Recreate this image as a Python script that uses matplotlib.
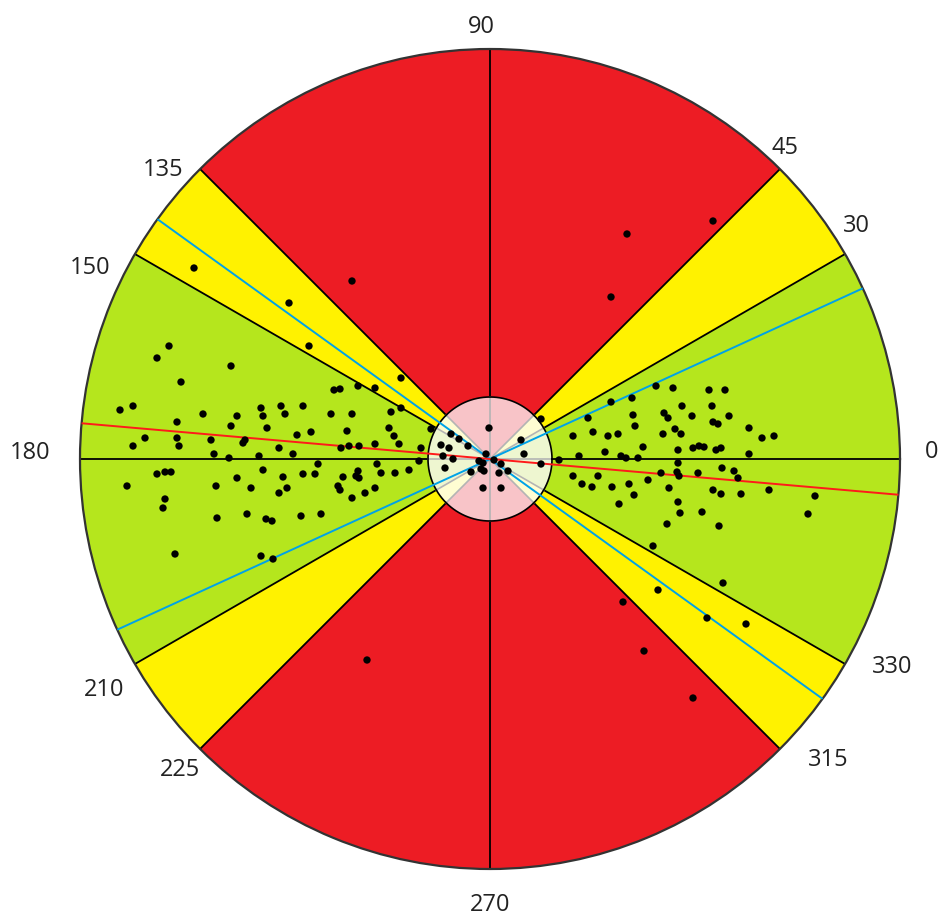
import numpy as np
import matplotlib
matplotlib.use("Agg")
import matplotlib.pyplot as plt

# sector layout (degrees) and fill colours
sector_start = [-30, 30, 45, 135, 150, 210, 225, 315]
sector_end = [30, 45, 135, 150, 210, 225, 315, 330]
sector_kind = ["green", "yellow", "red", "yellow", "green", "yellow", "red", "yellow"]

boundary_angles = [30, 45, 135, 150, 210, 225, 315, 330]
axis_angles = [0, 90, 180, 270]
label_angles = [0, 30, 45, 90, 135, 150, 180, 210, 225, 270, 315, 330]

# trend lines through the centre (deg)
blue_line_angles = [24.6, 144.2]
red_line_angles = [175.0]

OUTER = 410
INNER = 62

# where each angle label sits (theta deg, radius) - layout only
LABEL_POS = {
    0: (0.9, 442), 30: (32.5, 434), 45: (46.5, 429), 90: (91.2, 432),
    135: (138.5, 436), 150: (154.5, 443), 180: (179.3, 460), 210: (210.9, 450),
    225: (225.1, 439), 270: (270.0, 446), 315: (318.3, 453), 330: (332.7, 453),
}

# dots as east / north offsets from the centre
dot_dx = [
    -321, -333, -259, -181, -309, -89, -156, -150, -132, -115,
    -370, -357, -287, -253, -229, -227, -209, -205, -187, -159, -138, -99, -89,
    -313, -259, -223, -179, -193, -143, -101, -96, -91,
    -345, -357, -313, -311, -279, -247, -245, -211, -149, -141, -131, -115, -69,
    -276, -261, -231, -197, -71, -172, -113,
    -333, -325, -319, -363, -274, -253, -227, -207, -187, -175, -147, -132, -134, -131, -109, -95, -81,
    -239, -211, -203, -152, -150, -138, -125, -115,
    -325, -327, -273, -243, -224, -218, -189, -169,
    -315, -229, -217,
    166, 183, 219, 235, 121, 142, 192, 222, 98, 143, 174, 178, 202, 223, 228, 239, 145, 259,
    83, 103, 118, 128, 173, 185, 191, 272, 284, 153, 188, 203, 209, 214, 226, 231, 115, 89,
    131, 136, 148, 259, 188, 187, 189, 208, 232, 244, 248, 171, 83, 108, 92, 102, 122, 139,
    158, 144, 179, 223, 231, 251, 279, 325, 129, 188, 190, 212, 318, 177, 229,
    51, 34, 51, 31, 69,
    -1, -59, -49, -41, -47, -37, -45, -39, -31, -22, -4, -7, -9, -6, 4, 11, 18, 9, -19, -7, 11, -11,
    137, 223, 121, -138, -296, -201, -123, 133, 163, 168, 154, 233, 217, 256, 203,
]
dot_dy = [
    113, 101, 93, 113, 77, 81, 69, 70, 73, 71,
    49, 53, 45, 43, 51, 43, 53, 45, 53, 45, 45, 47, 51,
    37, 33, 31, 27, 24, 28, 31, 23, 15,
    21, 13, 21, 13, 19, 16, 19, 11, 11, 13, 13, 15, 11,
    5, 1, 3, 5, -2, -5, -5,
    -15, -13, -13, -27, -27, -19, -11, -18, -15, -15, -18, -12, -17, -19, -14, -14, -11,
    -29, -34, -29, -27, -31, -39, -34, -29,
    -40, -49, -59, -55, -60, -62, -57, -55,
    -95, -97, -100,
    73, 71, 69, 69, 57, 61, 53, 53, 41, 44, 46, 41, 43, 37, 35, 43, 33, 31,
    23, 27, 23, 25, 25, 30, 25, 21, 23, 12, 9, 11, 13, 12, 9, 11, 7, 3,
    3, 1, 1, 5, -4, -13, -17, -14, -9, -12, -19, -14, -17, -17, -25, -28, -28, -25,
    -21, -36, -29, -31, -35, -35, -31, -37, -45, -43, -54, -53, -55, -65, -67,
    40, 5, -5, 19, -1,
    31, 30, 14, 11, 3, 0, -9, 25, 20, 13, 5, -4, -10, -12, -1, -5, -12, -14, -13, -29, -29, -2,
    225, 238, 162, 178, 191, 156, -201, -143, -87, -131, -192, -124, -159, -165, -239,
]

outer_colors = {"green": "#B5E61D", "yellow": "#FFF200", "red": "#ED1C24"}
inner_colors = {"green": "#EEF6D0", "yellow": "#FFFDD2", "red": "#F8C4C8"}

fig = plt.figure(figsize=(9.41, 9.18), dpi=100)
cx, cy = 490 / 941, 1 - 459 / 918
w, h = 2 * OUTER / 941, 2 * OUTER / 918
ax = fig.add_axes([cx - w / 2, cy - h / 2, w, h], projection="polar")

start = np.deg2rad(sector_start)
end = np.deg2rad(sector_end)
mid = (start + end) / 2
width = end - start
ax.bar(mid, OUTER - INNER, width=width, bottom=INNER,
       color=[outer_colors[k] for k in sector_kind], edgecolor="none", zorder=1)
ax.bar(mid, INNER, width=width, bottom=0,
       color=[inner_colors[k] for k in sector_kind], edgecolor="none", zorder=1)

# sector borders
for a in boundary_angles + axis_angles:
    t = np.deg2rad(a)
    ax.plot([t, t], [INNER, OUTER], color="black", lw=1.3, zorder=2)
    ax.plot([t, t], [0, INNER], color="#b4b4b4", lw=1.2, zorder=2)

ring = np.linspace(0, 2 * np.pi, 361)
ax.plot(ring, np.full_like(ring, INNER), color="black", lw=1.2, zorder=2)

# trend lines
for a in blue_line_angles:
    for t in (np.deg2rad(a), np.deg2rad(a) + np.pi):
        ax.plot([t, t], [0, OUTER], color="#00A2E8", lw=1.4, zorder=3)
for a in red_line_angles:
    for t in (np.deg2rad(a), np.deg2rad(a) + np.pi):
        ax.plot([t, t], [0, OUTER], color="#FF1A1A", lw=1.4, zorder=3)

dx = np.array(dot_dx, dtype=float)
dy = np.array(dot_dy, dtype=float)
ax.scatter(np.arctan2(dy, dx), np.hypot(dx, dy), s=28, color="black",
           edgecolors="none", zorder=4)

for a in label_angles:
    th, r = LABEL_POS[a]
    ax.text(np.deg2rad(th), r, str(a), ha="center", va="center",
            fontsize=17, family="Open Sans", color="#222222", zorder=5,
            clip_on=False)

ax.set_ylim(0, OUTER)
ax.set_xticks([])
ax.set_yticks([])
ax.grid(False)
ax.spines["polar"].set_color("#333333")
ax.spines["polar"].set_linewidth(1.6)
ax.set_facecolor("white")

fig.savefig("out.png", dpi=100)
